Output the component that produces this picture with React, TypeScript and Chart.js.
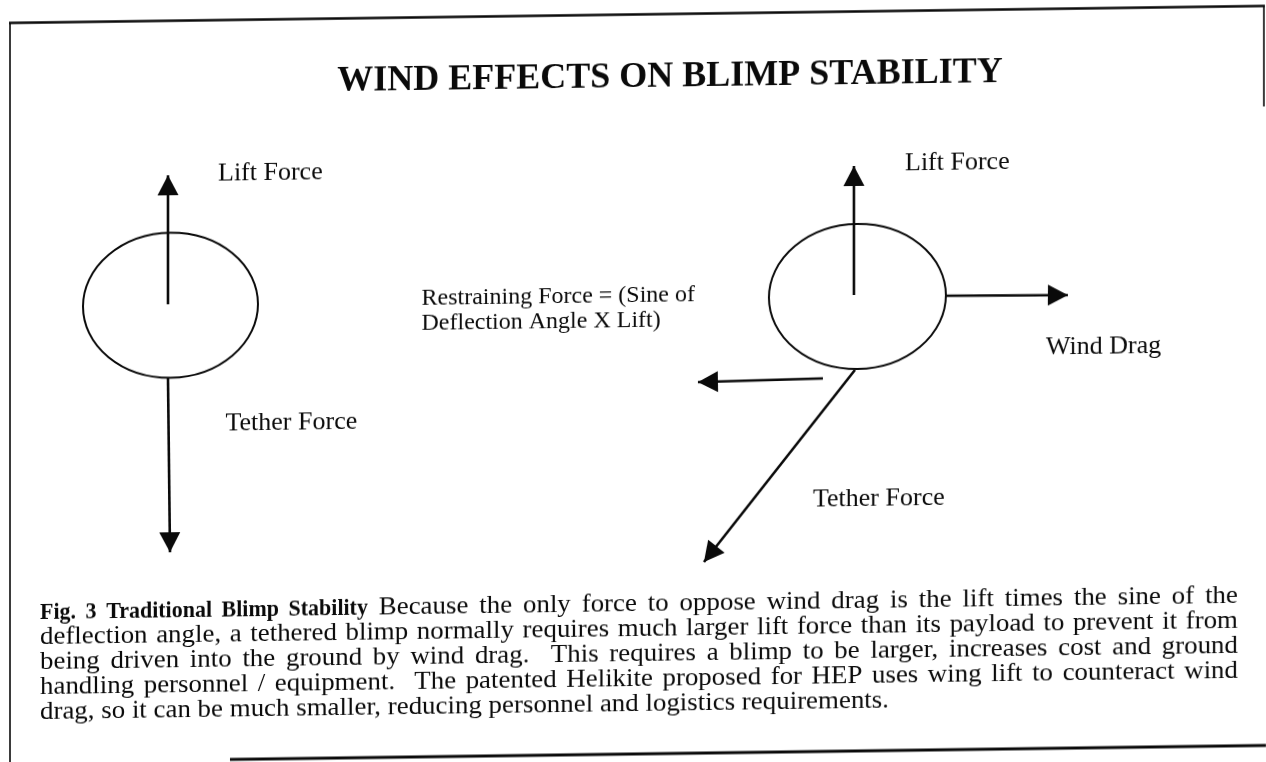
import React, { useEffect, useRef } from 'react';
import { Chart, registerables } from 'chart.js';

Chart.register(...registerables);

// ---- Diagram space (page units) ----
const PAGE_W = 1266;
const PAGE_H = 762;

// ---- Title ----
const titleText = 'WIND EFFECTS ON BLIMP STABILITY';
const titleAnchor = [670, 87];

// ---- Blimp bodies ----
const blimpNames = ['Calm', 'Wind'];
const blimpCenterX = [170.5, 857.5];
const blimpCenterY = [299, 299.5];
const blimpRadiusX = [87.5, 88.5];
const blimpRadiusY = [72.5, 72.5];

// ---- Force vectors (start -> arrow tip) ----
const forceNames = ['Lift (calm)', 'Tether (calm)', 'Lift (wind)', 'Wind drag', 'Restraining', 'Tether (wind)'];
const forceStartX = [168, 168, 854, 946, 823, 855];
const forceStartY = [298, 372, 298, 300, 381, 373];
const forceEndX = [168, 170, 854, 1068, 698, 704];
const forceEndY = [169, 546, 169, 301, 383, 563];

// ---- Labels ----
const labelTexts = [
  'Lift Force',
  'Tether Force',
  'Lift Force',
  'Wind Drag',
  'Tether Force',
  'Restraining Force = (Sine of',
  'Deflection Angle X Lift)',
];
const labelX = [218, 225.5, 905, 1046, 813, 421.5, 421.5];
const labelY = [174.5, 424.5, 173.5, 359.5, 508.5, 302, 327];
const labelSize = [26, 26, 26, 26, 26, 24, 24];

// ---- Caption ----
const captionBold = 'Fig. 3 Traditional Blimp Stability';
const captionLines = [
  ' Because the only force to oppose wind drag is the lift times the sine of the',
  'deflection angle, a tethered blimp normally requires much larger lift force than its payload to prevent it from',
  'being driven into the ground by wind drag.  This requires a blimp to be larger, increases cost and ground',
  'handling personnel / equipment.  The patented Helikite proposed for HEP uses wing lift to counteract wind',
  'drag, so it can be much smaller, reducing personnel and logistics requirements.',
];
const captionBaselines = [611, 636, 661, 686, 711];
const captionLeft = 40;
const captionRight = 1238;

// ---- Frame ----
const frameTopY = 14.5;
const frameLeftX = 10;
const frameRightX = 1264;
const frameRightBottom = 115;
const frameBottomY = 754;
const frameBottomStart = 230;

const FONT = '"Liberation Serif", "Times New Roman", Times, serif';
const INK = '#0a0a0a';

type Seg = { text: string; font: string; sx: number };
type Word = { text: string; font: string; sx: number; spaces: number };

function buildWords(segments: Seg[]): Word[] {
  const words: Word[] = [];
  let pendingSpaces = 0;
  segments.forEach((seg) => {
    let cur = '';
    for (const ch of seg.text) {
      if (ch === ' ') {
        if (cur) {
          words.push({ text: cur, font: seg.font, sx: seg.sx, spaces: pendingSpaces });
          pendingSpaces = 0;
          cur = '';
        }
        pendingSpaces += 1;
      } else {
        cur += ch;
      }
    }
    if (cur) {
      words.push({ text: cur, font: seg.font, sx: seg.sx, spaces: pendingSpaces });
      pendingSpaces = 0;
    }
  });
  if (words.length) words[0].spaces = 0;
  return words;
}

function drawLine(ctx: CanvasRenderingContext2D, segs: Seg[], x0: number, x1: number, y: number, justify: boolean) {
  const words = buildWords(segs);
  let natural = 0;
  let spaceCount = 0;
  words.forEach((w) => {
    ctx.font = w.font;
    natural += (ctx.measureText(w.text).width + w.spaces * ctx.measureText(' ').width) * w.sx;
    spaceCount += w.spaces;
  });
  const extra = justify && spaceCount > 0 ? (x1 - x0 - natural) / spaceCount : 0;
  let x = x0;
  words.forEach((w) => {
    ctx.font = w.font;
    x += w.spaces * (ctx.measureText(' ').width * w.sx + extra);
    ctx.save();
    ctx.translate(x, y);
    ctx.scale(w.sx, 1);
    ctx.fillText(w.text, 0, 0);
    ctx.restore();
    x += ctx.measureText(w.text).width * w.sx;
  });
}

const diagramPlugin = {
  id: 'diagram',
  beforeDraw(chart: any) {
    const ctx = chart.ctx as CanvasRenderingContext2D;
    ctx.save();
    ctx.fillStyle = '#ffffff';
    ctx.fillRect(0, 0, chart.width, chart.height);
    ctx.restore();
  },
  beforeDatasetsDraw(chart: any) {
    const ctx = chart.ctx as CanvasRenderingContext2D;
    const xs = chart.scales.x;
    const ys = chart.scales.y;
    const px = (v: number) => xs.getPixelForValue(v);
    const py = (v: number) => ys.getPixelForValue(v);
    ctx.save();
    ctx.strokeStyle = INK;
    // frame
    ctx.lineWidth = 2.6;
    ctx.beginPath();
    ctx.moveTo(px(frameLeftX - 1), py(frameTopY));
    ctx.lineTo(px(frameRightX + 1), py(frameTopY));
    ctx.stroke();
    ctx.lineWidth = 1.6;
    ctx.beginPath();
    ctx.moveTo(px(frameLeftX), py(frameTopY));
    ctx.lineTo(px(frameLeftX), py(PAGE_H + 20));
    ctx.stroke();
    ctx.beginPath();
    ctx.moveTo(px(frameRightX), py(frameTopY));
    ctx.lineTo(px(frameRightX), py(frameRightBottom));
    ctx.stroke();
    ctx.lineWidth = 2.8;
    ctx.beginPath();
    ctx.moveTo(px(frameBottomStart), py(frameBottomY));
    ctx.lineTo(px(PAGE_W + 10), py(frameBottomY));
    ctx.stroke();
    // blimps
    ctx.lineWidth = 2;
    blimpNames.forEach((_, i) => {
      const cx = px(blimpCenterX[i]);
      const cy = py(blimpCenterY[i]);
      const rx = Math.abs(px(blimpCenterX[i] + blimpRadiusX[i]) - cx);
      const ry = Math.abs(py(blimpCenterY[i] + blimpRadiusY[i]) - cy);
      ctx.beginPath();
      ctx.ellipse(cx, cy, rx, ry, 0, 0, Math.PI * 2);
      ctx.stroke();
    });
    ctx.restore();
  },
  afterDatasetsDraw(chart: any) {
    const ctx = chart.ctx as CanvasRenderingContext2D;
    const xs = chart.scales.x;
    const ys = chart.scales.y;
    const px = (v: number) => xs.getPixelForValue(v);
    const py = (v: number) => ys.getPixelForValue(v);
    ctx.save();
    // arrow heads
    ctx.fillStyle = INK;
    chart.data.datasets.forEach((_: any, i: number) => {
      const meta = chart.getDatasetMeta(i);
      const a = meta.data[0];
      const b = meta.data[1];
      if (!a || !b) return;
      const ang = Math.atan2(b.y - a.y, b.x - a.x);
      const len = 20;
      const half = 10.5;
      const bx = b.x - Math.cos(ang) * len;
      const by = b.y - Math.sin(ang) * len;
      ctx.beginPath();
      ctx.moveTo(b.x, b.y);
      ctx.lineTo(bx + Math.sin(ang) * half, by - Math.cos(ang) * half);
      ctx.lineTo(bx - Math.sin(ang) * half, by + Math.cos(ang) * half);
      ctx.closePath();
      ctx.fill();
    });
    // title
    ctx.textBaseline = 'alphabetic';
    ctx.textAlign = 'center';
    ctx.font = `bold 36px ${FONT}`;
    ctx.fillText(titleText, px(titleAnchor[0]), py(titleAnchor[1]));
    // labels
    ctx.textAlign = 'left';
    labelTexts.forEach((t, i) => {
      ctx.font = `${labelSize[i]}px ${FONT}`;
      ctx.fillText(t, px(labelX[i]), py(labelY[i]));
    });
    // caption
    const reg: Seg['font'] = `25px ${FONT}`;
    const bold: Seg['font'] = `bold 24px ${FONT}`;
    captionLines.forEach((line, i) => {
      const segs: Seg[] =
        i === 0
          ? [
              { text: captionBold, font: bold, sx: 0.915 },
              { text: line, font: reg, sx: 1.076 },
            ]
          : [{ text: line, font: reg, sx: 1.076 }];
      drawLine(ctx, segs, px(captionLeft), px(captionRight), py(captionBaselines[i]), i < captionLines.length - 1);
    });
    ctx.restore();
  },
};

export default function App() {
  const canvasRef = useRef<HTMLCanvasElement | null>(null);

  useEffect(() => {
    if (!canvasRef.current) return;
    const datasets = forceNames.map((name, i) => ({
      label: name,
      data: [
        { x: forceStartX[i], y: forceStartY[i] },
        { x: forceEndX[i], y: forceEndY[i] },
      ],
      showLine: true,
      borderColor: INK,
      backgroundColor: INK,
      borderWidth: 2.6,
      pointRadius: 0,
      pointHoverRadius: 0,
      fill: false,
      tension: 0,
    }));
    const chart = new Chart(canvasRef.current, {
      type: 'scatter',
      data: { datasets },
      options: {
        animation: false,
        responsive: false,
        maintainAspectRatio: false,
        devicePixelRatio: 1,
        events: [],
        layout: { padding: 0 },
        plugins: {
          legend: { display: false },
          tooltip: { enabled: false },
          title: { display: false },
        },
        scales: {
          x: { type: 'linear', min: 0, max: PAGE_W, display: false },
          y: { type: 'linear', min: 0, max: PAGE_H, reverse: true, display: false },
        },
      },
      plugins: [diagramPlugin],
    } as any);
    return () => chart.destroy();
  }, []);

  return (
    <div
      style={{
        position: 'fixed',
        left: 0,
        top: 0,
        width: PAGE_W,
        height: PAGE_H,
        background: '#fff',
        transform: 'skewY(-0.775deg)',
        transformOrigin: '633px 381px',
      }}
    >
      <canvas ref={canvasRef} width={PAGE_W} height={PAGE_H} style={{ display: 'block' }} />
    </div>
  );
}
